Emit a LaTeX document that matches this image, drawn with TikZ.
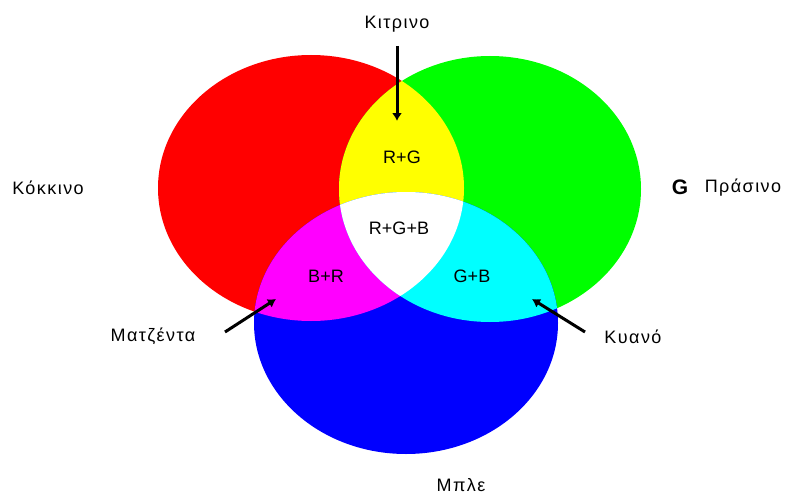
\documentclass[tikz,border=0pt]{standalone}
\usepackage{fontspec}
\setmainfont{Liberation Sans}
\usetikzlibrary{arrows.meta}
\definecolor{pred}{RGB}{255,0,0}
\definecolor{pgreen}{RGB}{0,255,0}
\definecolor{pblue}{RGB}{0,0,255}
\definecolor{pyellow}{RGB}{255,255,0}
\definecolor{pcyan}{RGB}{0,255,255}
\definecolor{pmagenta}{RGB}{255,0,255}
\newcommand{\redshape}{(311,188) ellipse [x radius=153, y radius=133]}
\newcommand{\greenshape}{(490,189) ellipse [x radius=151, y radius=133]}
\newcommand{\blueshape}{(406,323) ellipse [x radius=152, y radius=131]}
\begin{document}
\begin{tikzpicture}[x=1pt,y=-1pt,
  mix/.style={font=\fontsize{18}{20}\selectfont,inner sep=1pt},
  lbl/.style={font=\fontsize{18}{20}\selectfont\addfontfeature{LetterSpace=8},inner sep=1pt},
  arr/.style={-{Latex[length=8pt,width=10pt]},line width=3pt}
]
\useasboundingbox (0,0) rectangle (785,495);
% primaries
\fill[pred] \redshape;
\fill[pgreen] \greenshape;
\fill[pblue] \blueshape;
% overlaps
\begin{scope}
  \clip \redshape;
  \fill[pyellow] \greenshape;
  \fill[pmagenta] \blueshape;
\end{scope}
\begin{scope}
  \clip \greenshape;
  \fill[pcyan] \blueshape;
\end{scope}
\begin{scope}
  \clip \redshape;
  \clip \greenshape;
  \fill[white] \blueshape;
\end{scope}

\node[mix] (rg)  at (402,157) {R+G};
\node[mix] (rgb) at (399,228) {R+G+B};
\node[mix] (br)  at (326,276) {B+R};
\node[mix] (gb)  at (472,276) {G+B};

\node[lbl] (kitrino)  at (397,24)  {Κιτρινο};
\node[lbl] (kokkino)  at (48,188)  {Κόκκινο};
\node[font=\bfseries\fontsize{21}{23}\selectfont,inner sep=1pt] (g) at (680,187) {G};
\node[lbl] (prasino)  at (743,188) {Πράσινο};
\node[lbl] (matzenta) at (153,336) {Ματζέντα};
\node[lbl] (kyano)    at (633,337) {Κυανό};
\node[lbl] (mple)     at (461,485) {Μπλε};

\coordinate (y-tail) at (397,46);
\coordinate (y-tip)  at (397,121);
\coordinate (m-tail) at (225,332);
\coordinate (m-tip)  at (276,299);
\coordinate (c-tail) at (585,332);
\coordinate (c-tip)  at (532,299);
\draw[arr] (y-tail) -- (y-tip);
\draw[arr] (m-tail) -- (m-tip);
\draw[arr] (c-tail) -- (c-tip);
\end{tikzpicture}
\end{document}
